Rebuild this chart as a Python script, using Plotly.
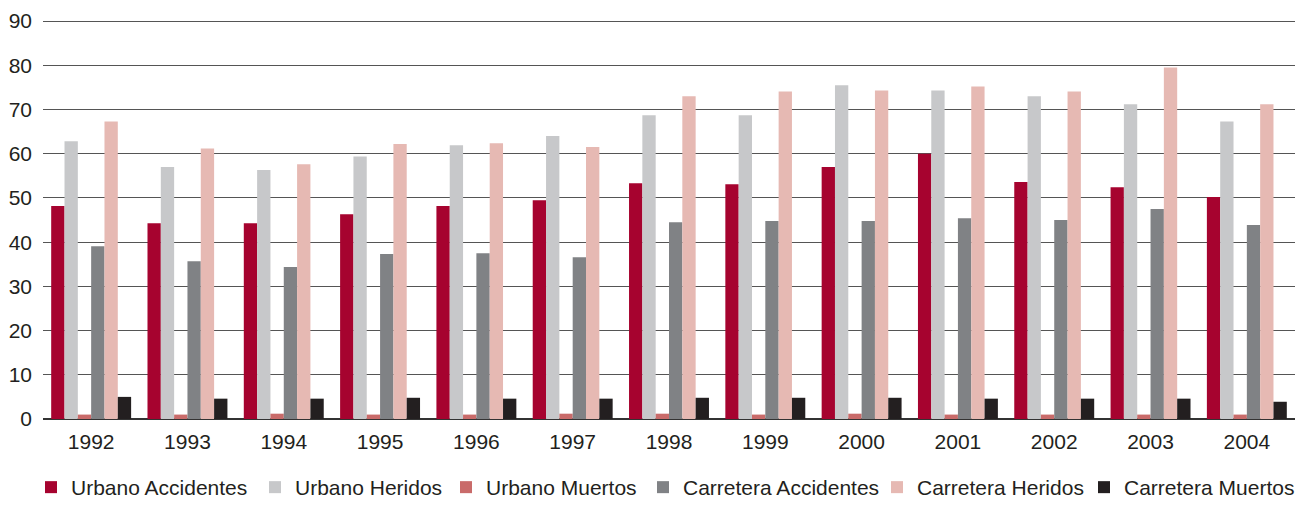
import plotly.graph_objects as go

YEARS = ["1992", "1993", "1994", "1995", "1996", "1997", "1998",
         "1999", "2000", "2001", "2002", "2003", "2004"]

urbano_accidentes = [48.2, 44.3, 44.3, 46.3, 48.2, 49.5, 53.3, 53.1, 57.0, 60.0, 53.6, 52.4, 50.2]
urbano_heridos = [62.8, 57.0, 56.3, 59.4, 61.9, 64.0, 68.7, 68.7, 75.5, 74.3, 73.0, 71.2, 67.3]
urbano_muertos = [1.0, 1.0, 1.2, 1.0, 1.0, 1.2, 1.2, 1.0, 1.2, 1.0, 1.0, 1.0, 1.0]
carretera_accidentes = [39.1, 35.7, 34.4, 37.3, 37.5, 36.6, 44.5, 44.8, 44.8, 45.4, 45.0, 47.5, 43.9]
carretera_heridos = [67.3, 61.2, 57.6, 62.2, 62.4, 61.5, 73.0, 74.1, 74.3, 75.2, 74.1, 79.5, 71.2]
carretera_muertos = [5.0, 4.6, 4.6, 4.8, 4.6, 4.6, 4.8, 4.8, 4.8, 4.6, 4.6, 4.6, 3.9]

SERIES = [
    ("Urbano Accidentes", urbano_accidentes, "#A6032F"),
    ("Urbano Heridos", urbano_heridos, "#C7C8CA"),
    ("Urbano Muertos", urbano_muertos, "#C96B6A"),
    ("Carretera Accidentes", carretera_accidentes, "#808285"),
    ("Carretera Heridos", carretera_heridos, "#E6B9B3"),
    ("Carretera Muertos", carretera_muertos, "#231F20"),
]

# one legend per series so each entry sits where the original has it (container px, left edge)
LEGEND_X = [31, 255, 446, 643, 877, 1084]

TEXT = "#231F20"
FONT = "Liberation Sans, Arial, sans-serif"
W, H = 1295, 508

fig = go.Figure()
for i, (name, vals, color) in enumerate(SERIES):
    lg = "legend" if i == 0 else f"legend{i + 1}"
    fig.add_trace(go.Bar(x=YEARS, y=vals, name=name, marker_color=color,
                         marker_line_width=0, legend=lg))

layout_legends = {}
for i, lx in enumerate(LEGEND_X):
    key = "legend" if i == 0 else f"legend{i + 1}"
    layout_legends[key] = dict(
        orientation="h", xref="container", yref="container",
        x=lx / W, y=-0.012, xanchor="left", yanchor="bottom",
        font=dict(size=21, color=TEXT), bgcolor="rgba(0,0,0,0)",
        itemclick=False, itemdoubleclick=False)

fig.update_layout(
    barmode="group", bargap=0.17, bargroupgap=0,
    width=W, height=H,
    margin=dict(l=43, r=0, t=20, b=89, autoexpand=False),
    paper_bgcolor="white", plot_bgcolor="white",
    font=dict(family=FONT, size=21, color=TEXT),
    showlegend=True,
    **layout_legends,
)
fig.update_xaxes(showgrid=False, showline=False, ticks="", automargin=False,
                 ticklabelstandoff=8, tickfont=dict(size=21, color=TEXT))
fig.update_yaxes(range=[0, 90.25], tickvals=list(range(0, 100, 10)),
                 showgrid=True, gridcolor="#555555", gridwidth=1.4,
                 zeroline=True, zerolinecolor="#333333", zerolinewidth=1.6,
                 ticks="", ticklabelstandoff=10, automargin=False,
                 tickfont=dict(size=21, color=TEXT))

# body margin off so the 1295x508 figure fills the window exactly
fig.write_html("out.html", config={"displayModeBar": False},
               post_script="document.body.style.margin='0';")
